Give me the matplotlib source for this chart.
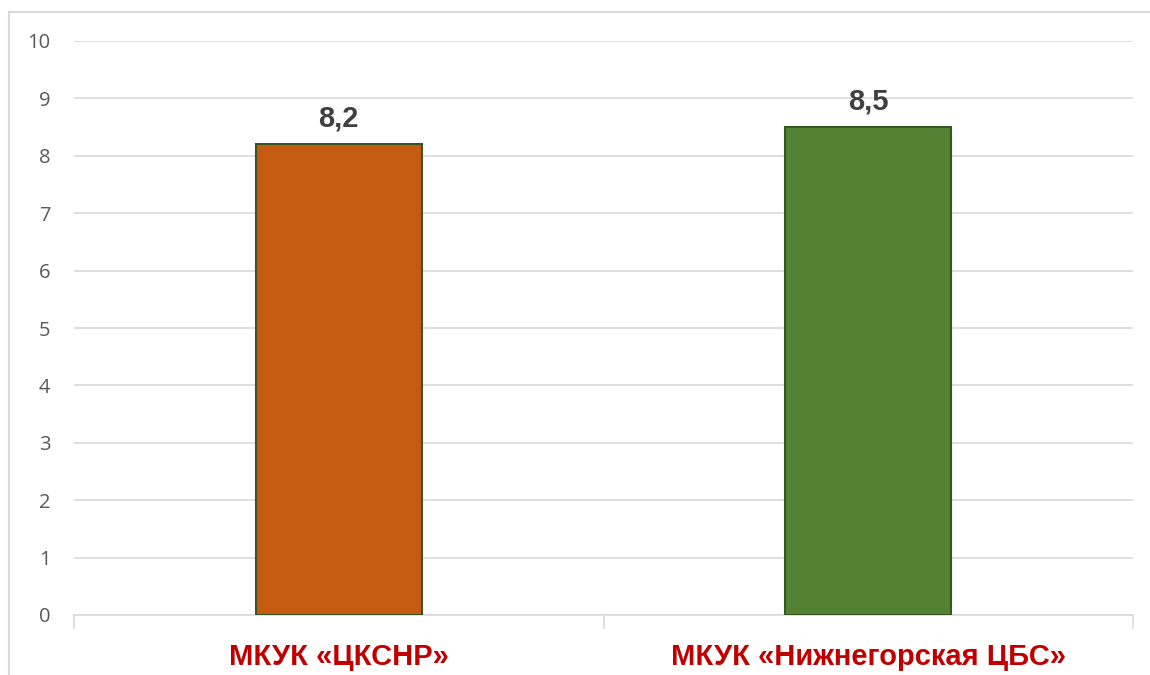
import matplotlib.pyplot as plt
from matplotlib.patches import Rectangle

categories = ["МКУК «ЦКСНР»", "МКУК «Нижнегорская ЦБС»"]
values = [8.2, 8.5]
value_labels = ["8,2", "8,5"]
bar_colors = ["#C55A11", "#548235"]

plt.rcParams["font.family"] = ["Liberation Sans", "DejaVu Sans"]

fig = plt.figure(figsize=(11.5, 6.75), dpi=100)
fig.patches.append(Rectangle((9 / 1150, -0.1), 1.2, 1 - 12 / 675 + 0.1,
                             transform=fig.transFigure, fill=False,
                             edgecolor="#D9D9D9", linewidth=1.5))
ax = fig.add_axes([74 / 1150, 1 - 615 / 675, 1059 / 1150, 574 / 675])

x = list(range(len(categories)))
ax.bar(x, values, width=0.314, color=bar_colors, edgecolor="#375623",
       linewidth=1.5, zorder=3)
for xi, v, lab in zip(x, values, value_labels):
    ax.text(xi, v + 0.2, lab, ha="center", va="bottom", fontsize=21,
            fontweight="bold", color="#404040")

ax.set_xlim(-0.5, 1.5)
ax.set_ylim(0, 10)
ax.set_yticks(range(0, 11))
for t in ax.get_yticklabels():
    t.set_family(["Open Sans", "DejaVu Sans"])
ax.yaxis.grid(True, color="#D9D9D9", linewidth=1.2, zorder=0)
ax.tick_params(axis="y", length=0, labelsize=14.5, labelcolor="#595959", pad=17)

ax.set_xticks([-0.5, 0.5, 1.5])
ax.set_xticklabels([])
ax.tick_params(axis="x", length=10, width=1.2, color="#D9D9D9")
ax.set_xticks(x, minor=True)
ax.set_xticklabels(categories, minor=True, fontsize=21, fontweight="bold",
                   color="#C00000")
ax.tick_params(axis="x", which="minor", length=0, pad=20)

for s in ["top", "right", "left"]:
    ax.spines[s].set_visible(False)
ax.spines["bottom"].set_color("#D9D9D9")
ax.spines["bottom"].set_linewidth(1.2)

fig.savefig("out.png", dpi=100)
